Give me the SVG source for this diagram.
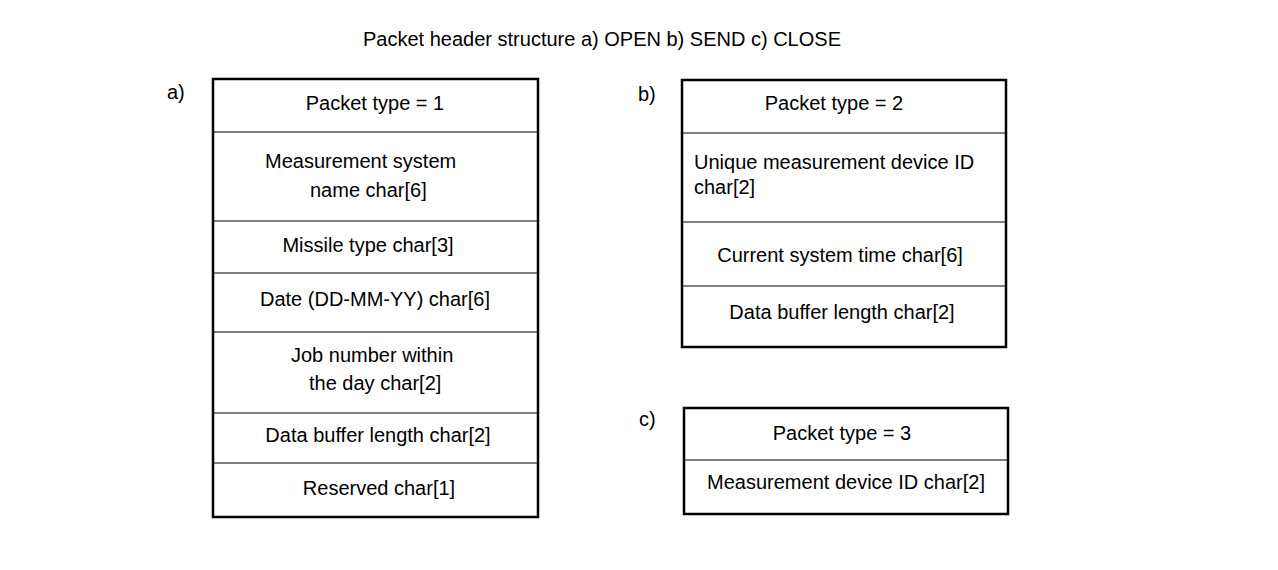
<svg xmlns="http://www.w3.org/2000/svg" width="1278" height="570" viewBox="0 0 1278 570">
<style>
text{font-family:"Liberation Sans",Arial,sans-serif;font-size:20px;fill:#000}
.c{text-anchor:middle}
.box{fill:#fff;stroke:#000;stroke-width:2.5}
.sep{stroke:#000;stroke-width:1}
</style>
<rect width="1278" height="570" fill="#fff"/>
<text x="602" y="46" class="c">Packet header structure a) OPEN b) SEND c) CLOSE</text>
<text x="167" y="99">a)</text>
<text x="638" y="101">b)</text>
<text x="639" y="426">c)</text>
<g id="nodeA">
<rect class="box" x="213" y="79" width="325" height="438"/>
<path class="sep" d="M213 132H538M213 221H538M213 273H538M213 332H538M213 413H538M213 463H538"/>
<text x="375" y="110" class="c">Packet type = 1</text>
<text x="265" y="168">Measurement system</text>
<text x="310" y="197">name char[6]</text>
<text x="368" y="252" class="c">Missile type char[3]</text>
<text x="375" y="306" class="c">Date (DD-MM-YY) char[6]</text>
<text x="291" y="362">Job number within</text>
<text x="309" y="390">the day char[2]</text>
<text x="378" y="442" class="c">Data buffer length char[2]</text>
<text x="379" y="495" class="c">Reserved char[1]</text>
</g>
<g id="nodeB">
<rect class="box" x="682" y="80" width="324" height="267"/>
<path class="sep" d="M682 133H1006M682 222H1006M682 286H1006"/>
<text x="834" y="110" class="c">Packet type = 2</text>
<text x="694" y="169">Unique measurement device ID</text>
<text x="694" y="194">char[2]</text>
<text x="840" y="262" class="c">Current system time char[6]</text>
<text x="842" y="319" class="c">Data buffer length char[2]</text>
</g>
<g id="nodeC">
<rect class="box" x="684" y="408" width="324" height="106"/>
<path class="sep" d="M684 460H1008"/>
<text x="842" y="440" class="c">Packet type = 3</text>
<text x="846" y="489" class="c">Measurement device ID char[2]</text>
</g>
<g id="connectors"/>
</svg>
